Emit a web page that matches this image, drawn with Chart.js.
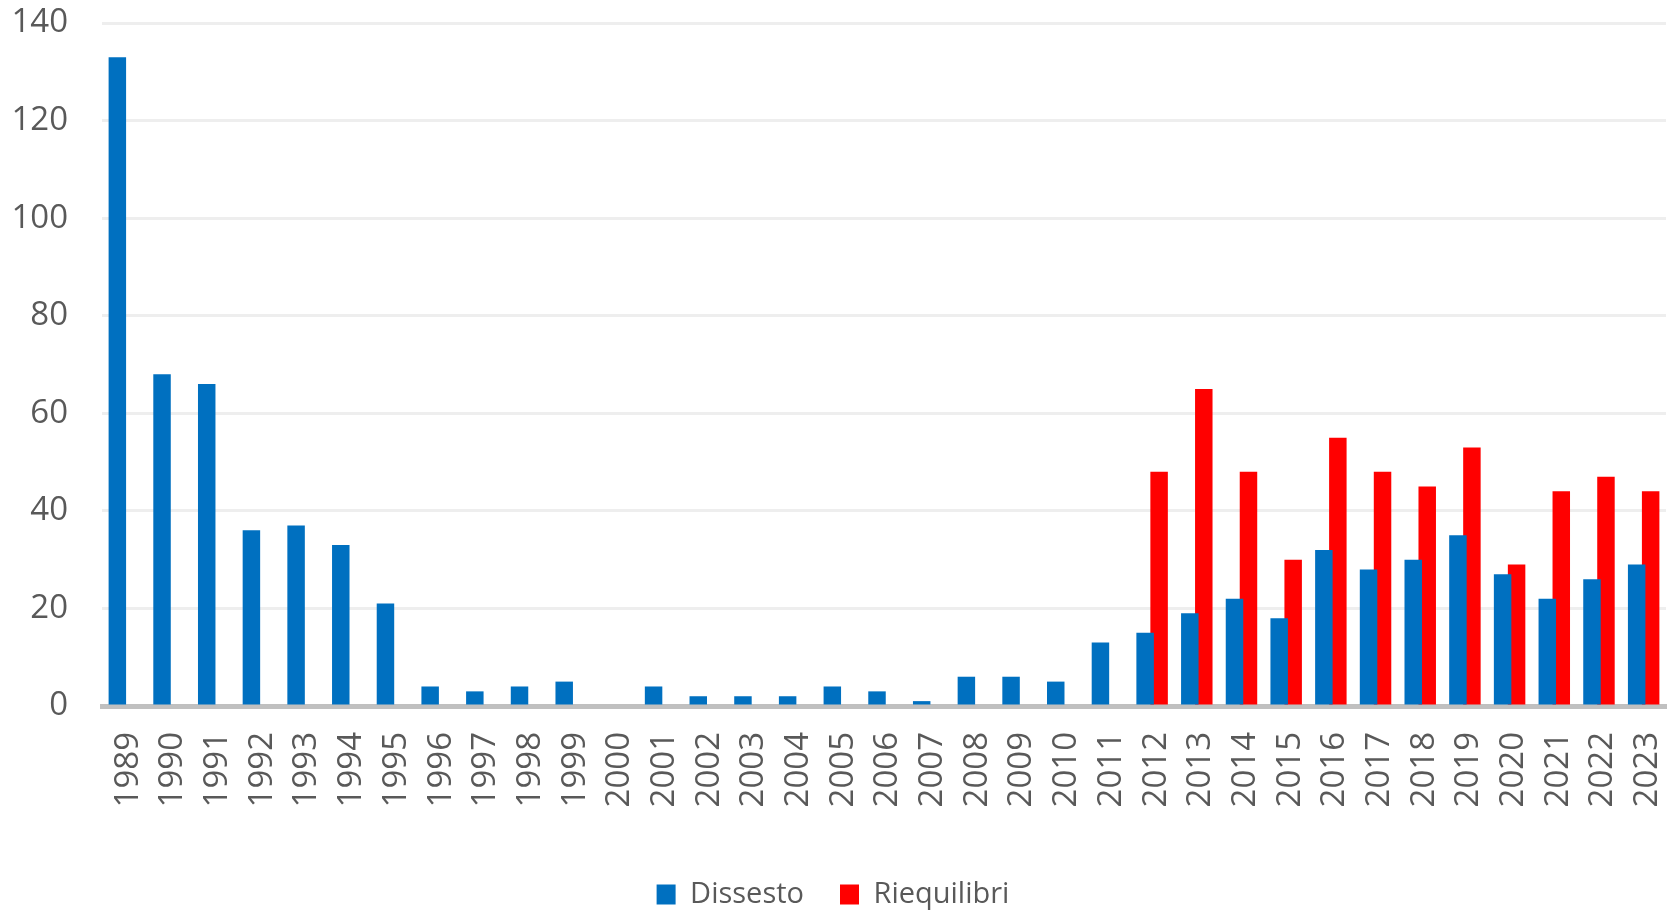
<!DOCTYPE html>
<html lang="it">
<head>
<meta charset="utf-8">
<title>Dissesti e riequilibri 1989-2023</title>
<script src="https://cdn.jsdelivr.net/npm/chart.js@4/dist/chart.umd.min.js"></script>
<style>
  html, body { margin: 0; padding: 0; background: #ffffff; }
  #wrap { width: 1671px; height: 912px; position: relative; }
</style>
</head>
<body>
<div id="wrap"><canvas id="chart" width="1671" height="912"></canvas></div>
<script>
// Anni di riferimento
const years = [
  '1989','1990','1991','1992','1993','1994','1995','1996','1997','1998',
  '1999','2000','2001','2002','2003','2004','2005','2006','2007','2008',
  '2009','2010','2011','2012','2013','2014','2015','2016','2017','2018',
  '2019','2020','2021','2022','2023'
];

// Enti in dissesto per anno
const dissesto = [
  133, 68, 66, 36, 37, 33, 21, 4, 3, 4,
  5, 0, 4, 2, 2, 2, 4, 3, 1, 6,
  6, 5, 13, 15, 19, 22, 18, 32, 28, 30,
  35, 27, 22, 26, 29
];

// Procedure di riequilibrio (dal 2012)
const riequilibri = [
  null, null, null, null, null, null, null, null, null, null,
  null, null, null, null, null, null, null, null, null, null,
  null, null, null, 48, 65, 48, 30, 55, 48, 45,
  53, 29, 44, 47, 44
];

// Valori dell'asse verticale
const yMin = 0;
const yMax = 140;
const yStep = 20;

const TEXT = '#595959';
const FONT = "'Open Sans', 'Noto Sans', sans-serif";
const PAD_BOTTOM = -7;
const AXIS_Y = 706;

new Chart(document.getElementById('chart'), {
  type: 'bar',
  data: {
    labels: years,
    datasets: [
      {
        label: 'Dissesto',
        data: dissesto,
        backgroundColor: '#0070C0',
        borderWidth: 0,
        categoryPercentage: 0.626,
        barPercentage: 1.25
      },
      {
        label: 'Riequilibri',
        data: riequilibri,
        backgroundColor: '#FF0000',
        borderWidth: 0,
        categoryPercentage: 0.626,
        barPercentage: 1.25
      }
    ]
  },
  options: {
    responsive: false,
    animation: false,
    events: [],
    layout: {
      autoPadding: false,
      padding: { top: 23, right: 5, bottom: PAD_BOTTOM, left: 0 }
    },
    plugins: {
      tooltip: { enabled: false },
      legend: {
        position: 'bottom',
        labels: {
          color: TEXT,
          font: { family: FONT, size: 29 },
          boxWidth: 19,
          boxHeight: 20,
          padding: 36
        }
      }
    },
    scales: {
      x: {
        grid: { display: false, drawTicks: false },
        border: { display: true, color: '#c0c0c0', width: 5 },
        ticks: {
          color: TEXT,
          font: { family: FONT, size: 33 },
          minRotation: 90,
          maxRotation: 90,
          autoSkip: false,
          padding: 26,
          labelOffset: 4
        },
        afterFit(scale) {
          const legendH = scale.chart.legend ? scale.chart.legend.height : 0;
          scale.height = scale.chart.height - AXIS_Y - legendH - PAD_BOTTOM;
          scale.paddingLeft = 0;
          scale.paddingRight = 0;
        }
      },
      y: {
        min: yMin,
        max: yMax,
        grid: {
          drawTicks: false,
          color: (ctx) => ctx.tick && ctx.tick.value === 0 ? 'rgba(0,0,0,0)' : '#eeeeee',
          lineWidth: 3
        },
        border: { display: false },
        ticks: {
          stepSize: yStep,
          color: TEXT,
          font: { family: FONT, size: 33 },
          padding: 34
        },
        afterFit(scale) {
          scale.width = 102;
          scale.paddingTop = 0;
          scale.paddingBottom = 0;
        }
      }
    }
  }
});
</script>
</body>
</html>
